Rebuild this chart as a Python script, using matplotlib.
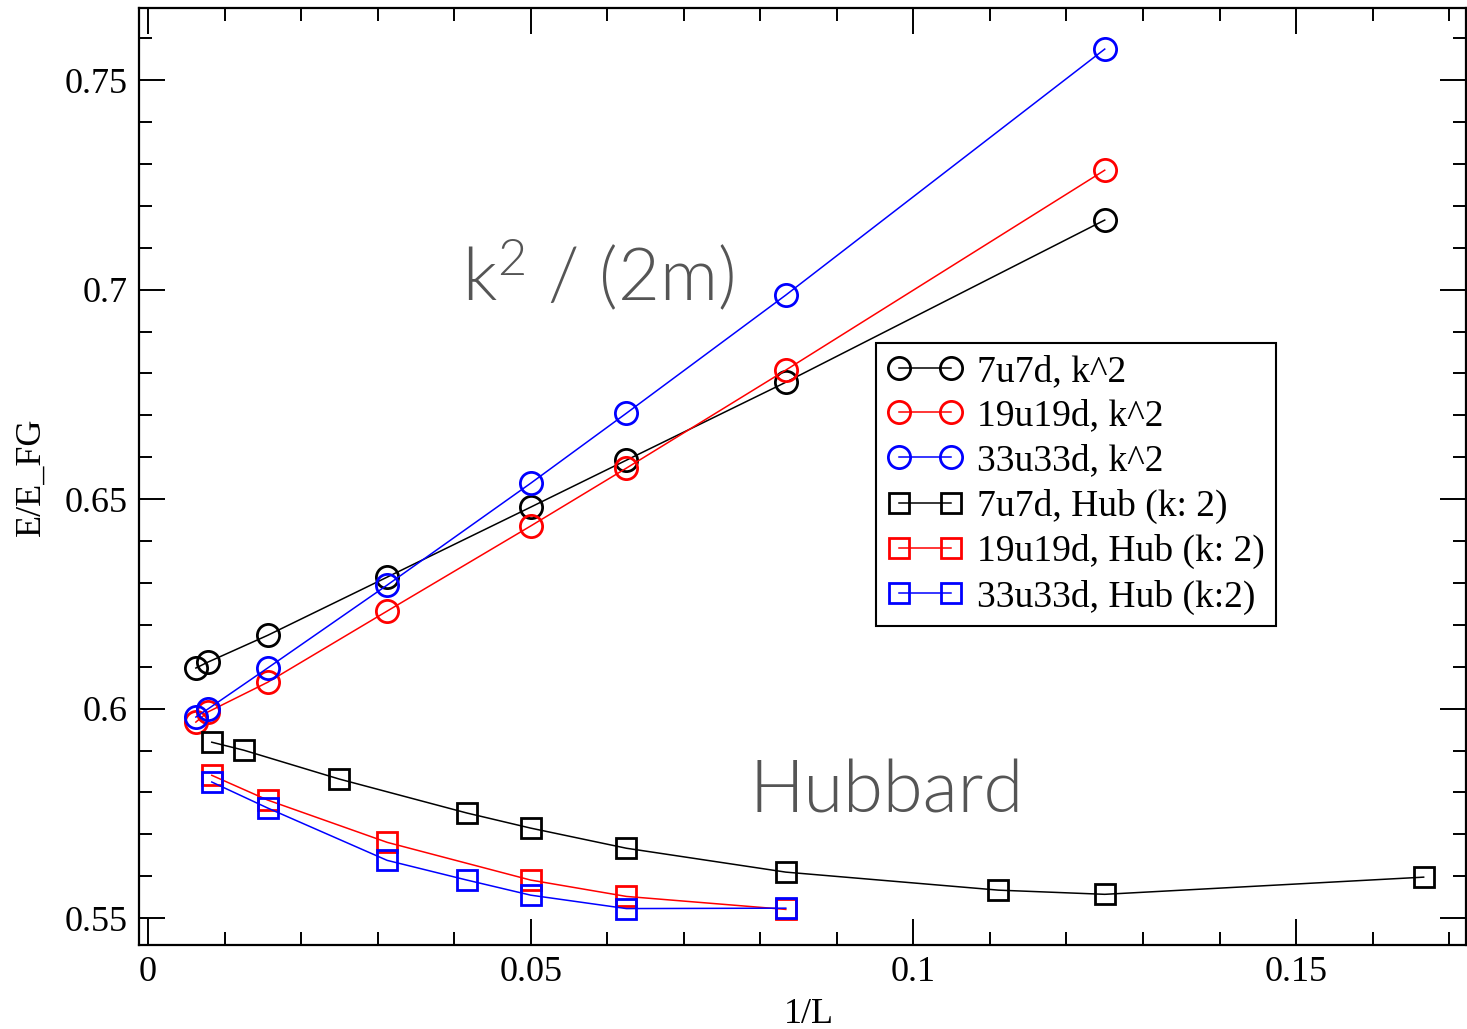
import numpy as np
import matplotlib
matplotlib.use("Agg")
import matplotlib.pyplot as plt
from matplotlib.ticker import MultipleLocator

plt.rcParams['font.family'] = ['Liberation Serif', 'DejaVu Serif']
plt.rcParams['mathtext.fontset'] = 'custom'
plt.rcParams['mathtext.rm'] = 'Lato:weight=300'
plt.rcParams['mathtext.it'] = 'Lato:weight=300'

# 1/L values
x_k2 = [0.00625, 0.0078125, 0.015625, 0.03125, 0.05, 0.0625, 0.08333, 0.125]
e_7u7d_k2 = [0.6097, 0.6111, 0.6175, 0.6314, 0.6481, 0.6593, 0.6779, 0.7166]
e_19u19d_k2 = [0.5968, 0.5992, 0.6063, 0.6233, 0.6436, 0.6574, 0.6808, 0.7285]
e_33u33d_k2 = [0.5980, 0.5999, 0.6097, 0.6295, 0.6538, 0.6705, 0.6987, 0.7574]

x_7u7d_hub = [0.00833, 0.0125, 0.025, 0.04167, 0.05, 0.0625, 0.08333, 0.1111, 0.125, 0.16667]
e_7u7d_hub = [0.5920, 0.5901, 0.5832, 0.5751, 0.5715, 0.5667, 0.5610, 0.5567, 0.5557, 0.5598]

x_19u19d_hub = [0.00833, 0.015625, 0.03125, 0.05, 0.0625, 0.08333]
e_19u19d_hub = [0.5841, 0.5782, 0.5681, 0.5591, 0.5552, 0.5521]

x_33u33d_hub = [0.00833, 0.015625, 0.03125, 0.04167, 0.05, 0.0625, 0.08333]
e_33u33d_hub = [0.5825, 0.5763, 0.5638, 0.5591, 0.5555, 0.5523, 0.5524]

fig = plt.figure(figsize=(14.67, 10.29), dpi=100)
ax = fig.add_axes([0.0948, 0.0816, 0.9045, 0.9106])

mk = dict(mfc='none', mew=2.0, lw=1.1)
ax.plot(x_k2, e_7u7d_k2, '-o', color='black', ms=16, label='7u7d, k^2', **mk)
ax.plot(x_k2, e_19u19d_k2, '-o', color='red', ms=16, label='19u19d, k^2', **mk)
ax.plot(x_k2, e_33u33d_k2, '-o', color='blue', ms=16, label='33u33d, k^2', **mk)
ax.plot(x_7u7d_hub, e_7u7d_hub, '-s', color='black', ms=14.5, label='7u7d, Hub (k: 2)', **mk)
ax.plot(x_19u19d_hub, e_19u19d_hub, '-s', color='red', ms=14.5, label='19u19d, Hub (k: 2)', **mk)
ax.plot(x_33u33d_hub, e_33u33d_hub, '-s', color='blue', ms=14.5, label='33u33d, Hub (k:2)', **mk)

ax.set_xlim(-0.00117, 0.1722)
ax.set_ylim(0.5436, 0.7672)

ax.xaxis.set_major_locator(MultipleLocator(0.05))
ax.xaxis.set_minor_locator(MultipleLocator(0.01))
ax.yaxis.set_major_locator(MultipleLocator(0.05))
ax.yaxis.set_minor_locator(MultipleLocator(0.01))
ax.set_xticks([0, 0.05, 0.1, 0.15])
ax.set_xticklabels(['0', '0.05', '0.1', '0.15'])
ax.set_yticks([0.55, 0.6, 0.65, 0.7, 0.75])
ax.set_yticklabels(['0.55', '0.6', '0.65', '0.7', '0.75'])

ax.tick_params(which='both', direction='in', top=True, right=True, width=1.4, labelsize=26)
ax.tick_params(which='major', length=19, pad=8)
ax.tick_params(which='minor', length=9.5)
for s in ax.spines.values():
    s.set_linewidth(1.6)

ax.set_xlabel('1/L', fontsize=26)
ax.set_ylabel('E/E_FG', fontsize=26)
ax.xaxis.set_label_coords(0.505, -0.056)
ax.yaxis.set_label_coords(-0.069, 0.5)

ax.text(0.0410, 0.6975, r'k$^{2}$ / (2m)', fontsize=52, color='#555555',
        family=['Lato', 'DejaVu Sans'], fontweight=300, va='baseline')
ax.text(0.0786, 0.5753, 'Hubbard', fontsize=52, color='#555555',
        family=['Lato', 'DejaVu Sans'], fontweight=300, va='baseline')

leg = ax.legend(loc='upper left', bbox_to_anchor=(0.5554, 0.6425), borderaxespad=0,
                fontsize=27, numpoints=2, handlelength=2.0, handletextpad=0.4,
                labelspacing=0.275, borderpad=0.3, fancybox=False, framealpha=1,
                edgecolor='black')
leg.get_frame().set_linewidth(1.5)

fig.savefig('out.png', dpi=100)
